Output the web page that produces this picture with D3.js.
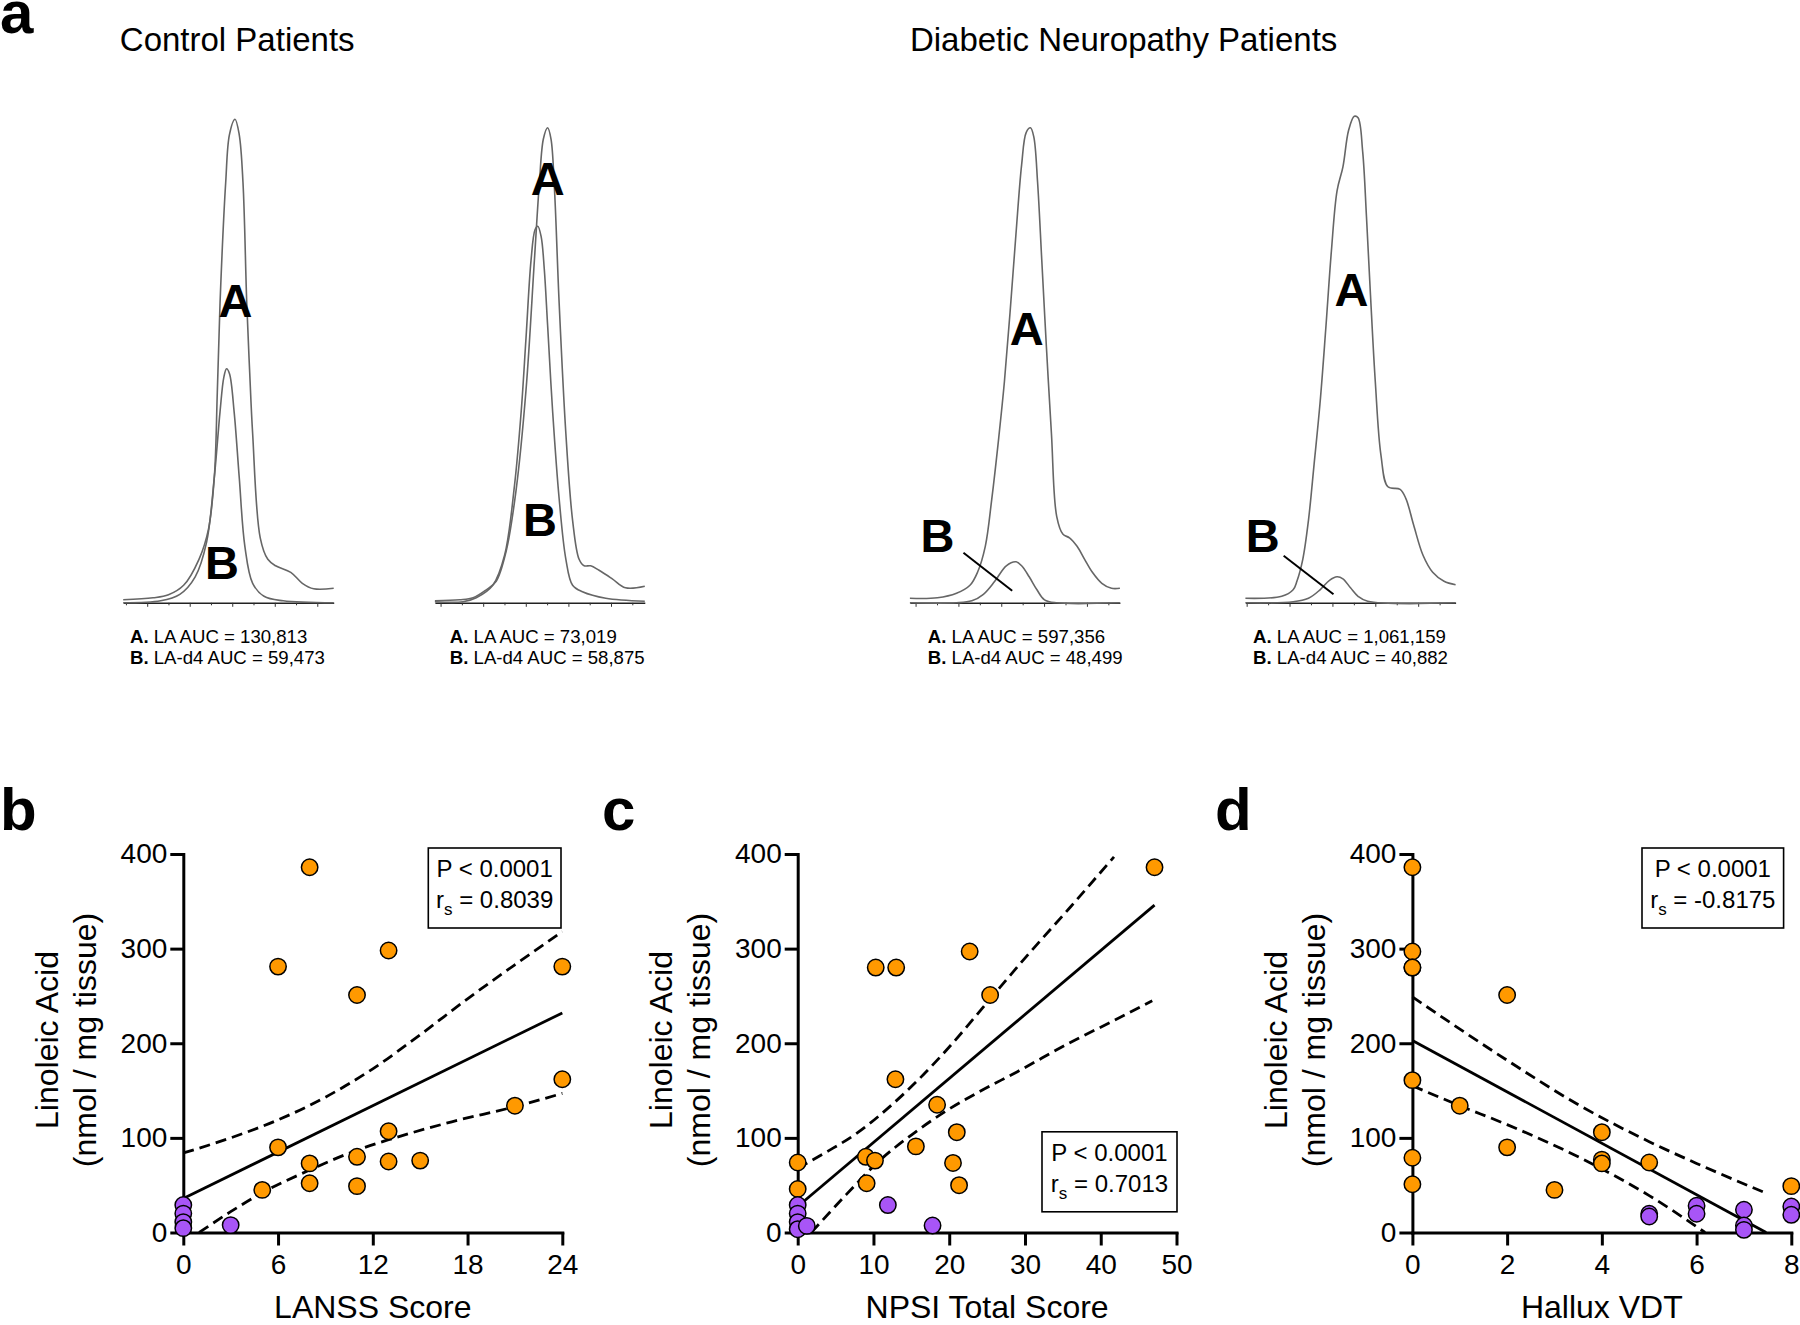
<!DOCTYPE html>
<html><head><meta charset="utf-8">
<script src="https://cdnjs.cloudflare.com/ajax/libs/d3/7.8.5/d3.min.js"></script>
<style>
body{margin:0;background:#fff}
svg{display:block}
text{font-family:Arial,"Liberation Sans",Helvetica,sans-serif;fill:#000}
</style>
</head><body>
<svg id="chart" width="1800" height="1325"></svg>
<script>
// ---------------- DATA ----------------
const panelLetters = ["a", "b", "c", "d"];
const groupTitles = ["Control Patients", "Diabetic Neuropathy Patients"];

// Chromatograms: [retention time (0-100 axis units), relative abundance]
const chrom1A = [[0,0.6],[14.2,1.0],[21.5,1.6],[28.7,3.5],[36.0,8.7],[40.5,14.7],[43.3,25.2],[44.7,42],[46.0,59.9],[48.7,84.1],[50.5,93.7],[53.1,96.7],[55.1,93.7],[56.9,84.1],[58.7,59.9],[60.1,46],[61.5,33.8],[65.1,13.0],[68.7,8.7],[72.4,7.4],[79.6,6.1],[85.1,3.9],[90.5,2.8],[100,2.9]];
const chrom1B = [[0,0],[17.8,0.4],[26.9,1.7],[34.2,5.2],[39.6,12.1],[43.3,25.2],[46.0,38.2],[47.8,45.1],[49.1,46.8],[50.5,45.8],[52.7,38.2],[55.1,25.2],[57.8,11.3],[61.5,3.9],[66.9,1.3],[76.0,0.4],[100,0]];
const chrom2A = [[0,0.4],[11.8,0.6],[18.2,1.0],[24.5,2.6],[29.2,4.3],[34.0,10.4],[38.7,22.6],[43.4,42.5],[47.4,68.5],[49.8,84.1],[51.7,92.8],[53.7,95.0],[55.3,92.8],[56.9,83.3],[59.2,59.9],[62.4,33.8],[65.6,16.5],[68.7,8.7],[71.1,7.4],[74.2,7.4],[78.2,6.5],[84.5,4.8],[90.8,3.0],[100,3.3]];
const chrom2B = [[0,0.2],[13.4,0.2],[19.7,1.0],[27.6,3.5],[33.2,9.5],[37.9,23.4],[41.1,38.2],[43.4,52.9],[45.8,68.5],[47.7,74.6],[49.0,75.3],[50.6,73.3],[52.1,66.8],[53.7,55.5],[56.1,38.2],[59.2,20.8],[62.4,8.7],[65.6,3.5],[70.3,2.2],[81.4,0.9],[100,0.3]];
const chrom3A = [[0,0.9],[13.1,1.0],[22.2,1.9],[28.6,3.5],[32.2,6.1],[35.9,11.3],[39.0,20.8],[42.3,33.0],[45.0,44.2],[47.7,58.1],[50.5,73.7],[53.2,87.6],[55.4,94.1],[57.4,95.0],[59.0,93.2],[60.8,84.1],[62.8,68.5],[65.0,51.2],[67.4,33.8],[69.9,17.3],[72.9,13.7],[76.0,13.0],[79.6,11.3],[83.2,8.7],[86.9,6.1],[91.4,3.9],[96.0,2.9],[100,2.9]];
const chrom3B = [[0,0],[22.2,0],[29.5,0.4],[35.0,1.7],[40.4,4.3],[45.9,7.4],[50.5,8.2],[53.2,7.4],[56.8,5.2],[60.5,2.6],[64.1,0.6],[69.6,0],[100,0]];
const chrom4A = [[0,0.9],[17.3,1.3],[22.7,2.6],[24.5,4.3],[27.3,8.7],[30.0,16.5],[32.7,27.8],[35.5,39.9],[38.2,54.6],[40.9,70.3],[43.6,82.4],[46.4,87.2],[49.1,94.5],[51.8,97.3],[53.6,97.0],[55.8,90.2],[57.6,77.2],[59.5,61.6],[61.8,44.2],[64.5,29.5],[67.8,23.2],[73.6,22.7],[76.4,20.8],[80.0,15.6],[84.5,9.5],[89.1,6.1],[94.5,4.3],[100,3.6]];
const chrom4B = [[0,0],[22.7,0.2],[30,0.9],[35.5,2.6],[40,4.5],[43.6,5.2],[46.4,4.8],[50,3.0],[53.6,1.3],[58.2,0.3],[100,0]];
const chromTicks = [[11.4,31.6,51.8,72.0,92.2],[2.7,23.0,43.3,63.6,83.9],[2.7,23.1,43.5,63.9,84.3],[0.6,21.0,41.4,61.8,82.2]];
const aucLA   = ["130,813", "73,019", "597,356", "1,061,159"];
const aucLAd4 = ["59,473", "58,875", "48,499", "40,882"];

// Scatter panels: [x, Linoleic Acid nmol/mg]
const yTicks = [0, 100, 200, 300, 400];
const bTicks = [0, 6, 12, 18, 24];
const cTicks = [0, 10, 20, 30, 40, 50];
const dTicks = [0, 2, 4, 6, 8];
const xTitles = ["LANSS Score", "NPSI Total Score", "Hallux VDT"];

const bOrange = [[8,386],[6,281],[13,298],[11,251],[24,281],[24,162],[21,134],[6,90],[8,73],[8,52],[11,80],[11,49],[13,107],[13,75],[15,76],[5,45]];
const bPurple = [[0,29],[0,20],[0,11],[0,4.6],[3,7.8]];
const bFit   = [[0,36],[24,232]];
const bUpper = [[0,84],[3,100],[6,119],[9,143],[12,173],[15,209],[18,247],[21,283],[24,318]];
const bLower = [[1.0,0],[3,22],[5,42],[8,66],[11,87],[13,98],[17,117],[21,133],[24,147]];

const cOrange = [[47.1,386],[22.7,297],[10.3,280],[13,280],[25.4,251],[12.9,162],[18.4,135],[21,106],[15.6,91],[9,80],[10.2,76],[20.5,73.5],[9.1,52],[21.3,50],[0,74],[0,46]];
const cPurple = [[0,29],[0,20],[0,11],[0,3.5],[1.2,7],[11.9,29],[17.8,7.4]];
const cFit   = [[0,27.5],[47.1,346]];
const cUpper = [[0,68],[4,86],[8,106],[12,132],[16,162],[20,196],[25,243],[30,290],[36,344],[41.75,397]];
const cLower = [[1.8,0],[6.4,40],[10.8,76],[15,103],[19.5,128],[23.8,148],[29,170],[36.5,203],[41.5,223],[46.8,245]];

const dOrange = [[0,386],[0,297],[0,280],[0,280],[0,161],[0,79],[0,51],[1,134],[2,251],[2,90],[3,45],[4,106],[4,77],[4,73],[5,74],[8,49]];
const dPurple = [[5,19.8],[5,16.9],[6,28.3],[6,19.8],[7,24],[7,7.4],[7,2.8],[8,27.5],[8,18.7]];
const dFit   = [[0,203],[7.47,0]];
const dUpper = [[0,249],[2,182],[3.54,134],[5,96],[6,73],[7.45,42]];
const dLower = [[0,155],[1,134],[2,114],[3.54,79],[5,39],[6.18,0]];

const statsP  = ["P < 0.0001", "P < 0.0001", "P < 0.0001"];
const statsRs = ["0.8039", "0.7013", "-0.8175"];

const orangeColor = "#FF9900";
const purpleColor = "#A855F7";

// ---------------- DRAW ----------------
const svg = d3.select("#chart");

// Panel a
svg.append("text").attr("x", 0).attr("y", 33).attr("font-size", 60).attr("font-weight", "bold").text(panelLetters[0]);
svg.append("text").attr("x", 119.8).attr("y", 51.2).attr("font-size", 33).text(groupTitles[0]);
svg.append("text").attr("x", 909.9).attr("y", 51.2).attr("font-size", 33).text(groupTitles[1]);

const chroms = [
  {A: chrom1A, B: chrom1B, x0: 123.2, x1: 333.7, textX: 130,    labA: [53.3, 57.2], labB: [46.9, 4.8],  leader: null},
  {A: chrom2A, B: chrom2B, x0: 434.9, x1: 644.8, textX: 449.8,  labA: [53.7, 81.5], labB: [50.1, 13.4], leader: null},
  {A: chrom3A, B: chrom3B, x0: 909.9, x1: 1119.9, textX: 927.8, labA: [55.6, 51.6], labB: [13.1, 10.2], leader: [[25.5, 10], [48.7, 2.4]]},
  {A: chrom4A, B: chrom4B, x0: 1245.4, x1: 1455.6, textX: 1253.1, labA: [50.5, 59.4], labB: [8.2, 10.2], leader: [[18.2, 9.4], [41.9, 1.7]]}
];
const chromY = d3.scaleLinear().domain([0, 100]).range([602.8, 102.8]);

chroms.forEach((c, i) => {
  const x = d3.scaleLinear().domain([0, 100]).range([c.x0, c.x1]);
  const g = svg.append("g");
  const majors = chromTicks[i];
  const step = majors[1] - majors[0];
  const minors = [];
  for (let k = -1; k < majors.length; k++) {
    const m = majors[0] + step * k + step / 2;
    if (m >= 0 && m <= 100) minors.push(m);
  }
  const ax = g.append("g").attr("transform", "translate(0,602.8)")
    .call(d3.axisBottom(x).tickValues(majors).tickSize(4).tickFormat("").tickSizeOuter(0));
  ax.select(".domain").attr("stroke", "#222").attr("stroke-width", 1.6);
  ax.selectAll(".tick line").attr("stroke", "#333").attr("stroke-width", 1);
  const axm = g.append("g").attr("transform", "translate(0,602.8)")
    .call(d3.axisBottom(x).tickValues(minors).tickSize(2.5).tickFormat("").tickSizeOuter(0));
  axm.select(".domain").remove();
  axm.selectAll(".tick line").attr("stroke", "#333").attr("stroke-width", 1);

  const line = d3.line().x(d => x(d[0])).y(d => chromY(d[1])).curve(d3.curveCatmullRom.alpha(0.5));
  [c.B, c.A].forEach(tr => {
    g.append("path").attr("d", line(tr)).attr("fill", "none").attr("stroke", "#666").attr("stroke-width", 1.6);
  });
  g.append("text").attr("x", x(c.labA[0])).attr("y", chromY(c.labA[1])).attr("text-anchor", "middle")
    .attr("font-size", 47).attr("font-weight", "bold").text("A");
  g.append("text").attr("x", x(c.labB[0])).attr("y", chromY(c.labB[1])).attr("text-anchor", "middle")
    .attr("font-size", 47).attr("font-weight", "bold").text("B");
  if (c.leader) {
    g.append("line").attr("x1", x(c.leader[0][0])).attr("y1", chromY(c.leader[0][1]))
      .attr("x2", x(c.leader[1][0])).attr("y2", chromY(c.leader[1][1]))
      .attr("stroke", "#000").attr("stroke-width", 2);
  }
  const t1 = g.append("text").attr("x", c.textX).attr("y", 643.2).attr("font-size", 18.6);
  t1.append("tspan").attr("font-weight", "bold").text("A.");
  t1.append("tspan").text(" LA AUC = " + aucLA[i]);
  const t2 = g.append("text").attr("x", c.textX).attr("y", 663.6).attr("font-size", 18.6);
  t2.append("tspan").attr("font-weight", "bold").text("B.");
  t2.append("tspan").text(" LA-d4 AUC = " + aucLAd4[i]);
});

// Scatter panels
const yScale = d3.scaleLinear().domain([0, 400]).range([1232.5, 854]);
const panels = [
  {letter: panelLetters[1], letterX: 0,    x0: 183.3,  x1: 562.3,  domain: [0, 24], ticks: bTicks, title: xTitles[0],
   orange: bOrange, purple: bPurple, fit: bFit, upper: bUpper, lower: bLower, box: [428.3, 848, 132.7, 80], s: 0},
  {letter: panelLetters[2], letterX: 602,  x0: 797.7,  x1: 1176.5, domain: [0, 50], ticks: cTicks, title: xTitles[1],
   orange: cOrange, purple: cPurple, fit: cFit, upper: cUpper, lower: cLower, box: [1042, 1131.8, 135, 80], s: 1},
  {letter: panelLetters[3], letterX: 1215, x0: 1412.4, x1: 1791.3, domain: [0, 8], ticks: dTicks, title: xTitles[2],
   orange: dOrange, purple: dPurple, fit: dFit, upper: dUpper, lower: dLower, box: [1642, 848, 141.6, 80], s: 2}
];

panels.forEach(p => {
  const x = d3.scaleLinear().domain(p.domain).range([p.x0, p.x1]);
  const g = svg.append("g");
  g.append("text").attr("x", p.letterX).attr("y", 830).attr("font-size", 60).attr("font-weight", "bold").text(p.letter);

  const yAx = g.append("g").attr("transform", `translate(${p.x0},0)`)
    .call(d3.axisLeft(yScale).tickValues(yTicks).tickSize(13).tickPadding(3).tickSizeOuter(0));
  const xAx = g.append("g").attr("transform", `translate(0,${yScale(0)})`)
    .call(d3.axisBottom(x).tickValues(p.ticks).tickSize(13).tickPadding(9).tickSizeOuter(0));
  [yAx, xAx].forEach(a => {
    a.select(".domain").attr("stroke", "#000").attr("stroke-width", 3).attr("stroke-linecap", "square");
    a.selectAll(".tick line").attr("stroke", "#000").attr("stroke-width", 3);
    a.selectAll(".tick text").attr("font-size", 28).attr("fill", "#000")
      .attr("font-family", 'Arial,"Liberation Sans",Helvetica,sans-serif');
  });

  g.append("text").attr("x", (p.x0 + p.x1) / 2).attr("y", 1318).attr("text-anchor", "middle").attr("font-size", 32).text(p.title);
  g.append("text").attr("transform", `translate(${p.x0 - 136.5},1040) rotate(-90)`).attr("dy", "0.35em")
    .attr("text-anchor", "middle").attr("font-size", 32).text("Linoleic Acid");
  g.append("text").attr("transform", `translate(${p.x0 - 99},1040) rotate(-90)`).attr("dy", "0.35em")
    .attr("text-anchor", "middle").attr("font-size", 32).text("(nmol / mg tissue)");

  const lin = d3.line().x(d => x(d[0])).y(d => yScale(d[1]));
  const curv = d3.line().x(d => x(d[0])).y(d => yScale(d[1])).curve(d3.curveMonotoneX);
  g.append("path").attr("d", lin(p.fit)).attr("fill", "none").attr("stroke", "#000").attr("stroke-width", 2.8);
  [p.upper, p.lower].forEach(b => {
    g.append("path").attr("d", curv(b)).attr("fill", "none").attr("stroke", "#000")
      .attr("stroke-width", 2.8).attr("stroke-dasharray", "11,6");
  });

  g.selectAll("circle.o").data(p.orange).join("circle").attr("class", "o")
    .attr("cx", d => x(d[0])).attr("cy", d => yScale(d[1])).attr("r", 8.2)
    .attr("fill", orangeColor).attr("stroke", "#000").attr("stroke-width", 1.5);
  g.selectAll("circle.p").data(p.purple).join("circle").attr("class", "p")
    .attr("cx", d => x(d[0])).attr("cy", d => yScale(d[1])).attr("r", 8.2)
    .attr("fill", purpleColor).attr("stroke", "#000").attr("stroke-width", 1.5);

  const [bx, by, bw, bh] = p.box;
  g.append("rect").attr("x", bx).attr("y", by).attr("width", bw).attr("height", bh)
    .attr("fill", "#fff").attr("stroke", "#000").attr("stroke-width", 1.6);
  g.append("text").attr("x", bx + bw / 2).attr("y", by + 29.3).attr("text-anchor", "middle").attr("font-size", 24).text(statsP[p.s]);
  const rt = g.append("text").attr("x", bx + bw / 2).attr("y", by + 59.7).attr("text-anchor", "middle").attr("font-size", 24);
  rt.append("tspan").text("r");
  rt.append("tspan").attr("font-size", 17).attr("dy", 7).text("s");
  rt.append("tspan").attr("dy", -7).text(" = " + statsRs[p.s]);
});
</script>
</body></html>
